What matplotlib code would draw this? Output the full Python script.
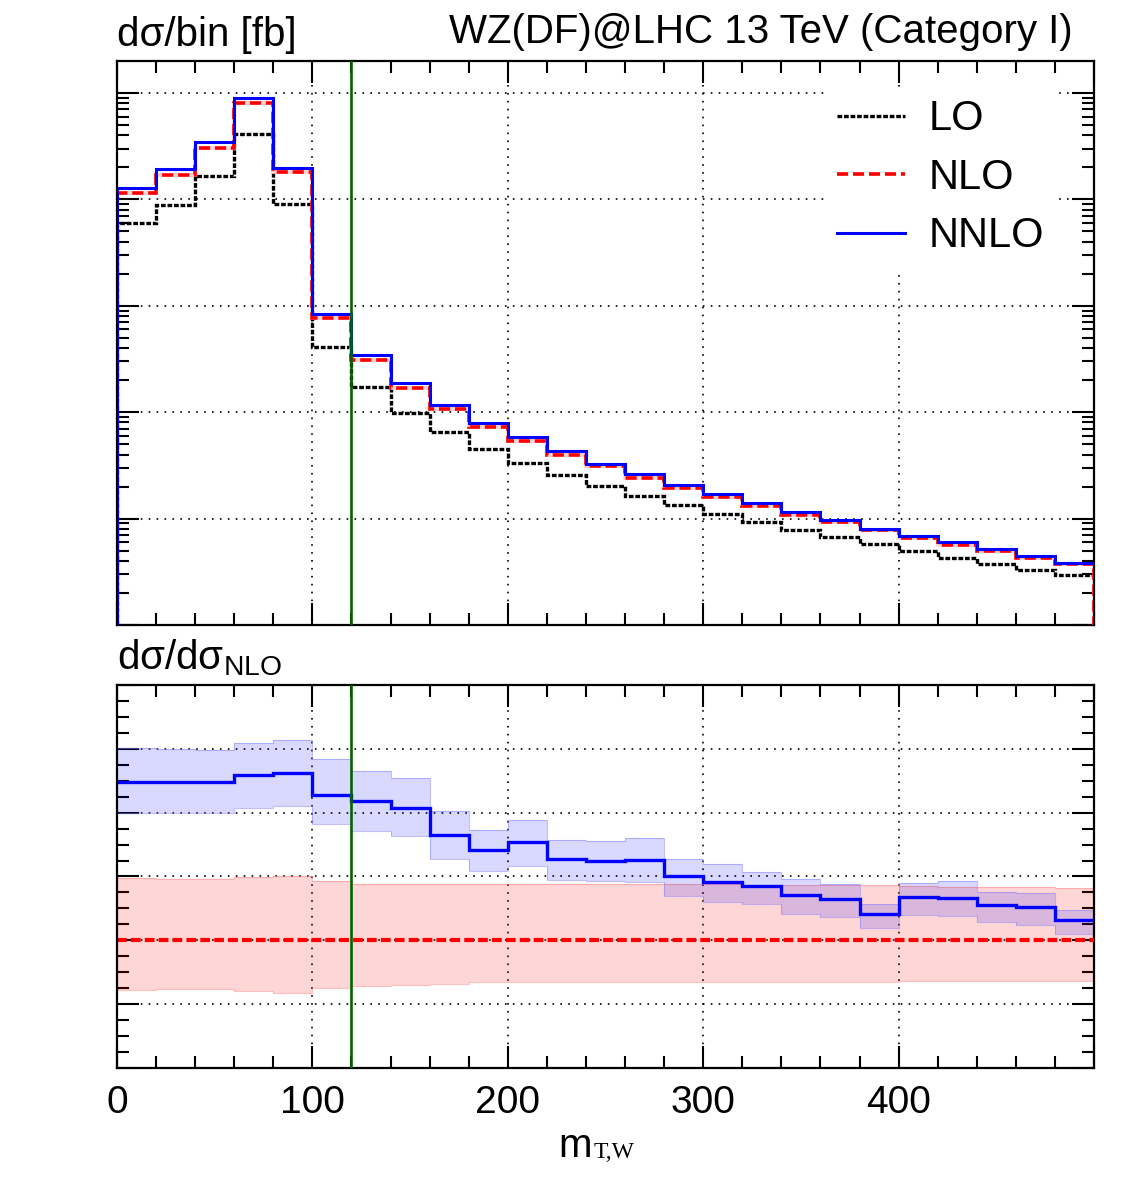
import numpy as np
import matplotlib
matplotlib.use('Agg')
import matplotlib.pyplot as plt
from matplotlib.lines import Line2D
from matplotlib.ticker import MultipleLocator, LogLocator, NullFormatter

plt.rcParams['font.family'] = ['Liberation Sans', 'DejaVu Sans']
plt.rcParams['lines.scale_dashes'] = False

# bin edges of m_T,W [GeV]
edges = np.arange(0, 520, 20)

# d sigma / bin [fb]
lo = [5.97, 8.88, 16.4, 40.9, 9.0, 0.406, 0.171, 0.0982, 0.0647, 0.0454,
      0.0336, 0.0259, 0.0204, 0.0163, 0.0133, 0.01114, 0.00931, 0.00788,
      0.00668, 0.00574, 0.00493, 0.00430, 0.00375, 0.00332, 0.00292]
nlo = [11.4, 17.0, 30.7, 80.0, 17.9, 0.766, 0.307, 0.169, 0.107, 0.0731,
       0.0532, 0.0396, 0.0310, 0.0243, 0.0193, 0.0158, 0.01315, 0.01091,
       0.00923, 0.00783, 0.00663, 0.00570, 0.00493, 0.00427, 0.00375]
nnlo = [12.9, 19.2, 34.4, 90.3, 19.9, 0.836, 0.341, 0.188, 0.117, 0.0791,
        0.0581, 0.0428, 0.0328, 0.0261, 0.0208, 0.0169, 0.01393, 0.01146,
        0.00964, 0.00805, 0.00692, 0.00600, 0.00515, 0.00443, 0.00384]

# ratio to NLO, with scale bands
r_nnlo = [1.1243, 1.1238, 1.1238, 1.1295, 1.1310, 1.1139, 1.1090, 1.1035,
          1.0822, 1.0708, 1.0770, 1.0635, 1.0622, 1.0630, 1.0502, 1.0460,
          1.0424, 1.0354, 1.0325, 1.0208, 1.0340, 1.0335, 1.0279, 1.0263,
          1.0159]
r_nnlo_up = [1.1508, 1.1496, 1.1490, 1.1542, 1.1573, 1.1420, 1.1324, 1.1274,
             1.1012, 1.0864, 1.0942, 1.0783, 1.0775, 1.0799, 1.0635, 1.0595,
             1.0535, 1.0481, 1.0442, 1.0286, 1.0447, 1.0463, 1.0377, 1.0367,
             1.0234]
r_nnlo_dn = [1.0999, 1.0999, 1.0999, 1.1035, 1.1053, 1.0910, 1.0860, 1.0814,
             1.0640, 1.0546, 1.0580, 1.0476, 1.0463, 1.0458, 1.0349, 1.0302,
             1.0286, 1.0205, 1.0185, 1.0099, 1.0198, 1.0190, 1.0143, 1.0120,
             1.0049]
r_nlo = [1.0] * 25
r_nlo_up = [1.0486, 1.0481, 1.0484, 1.0499, 1.0505, 1.0468, 1.0442, 1.0442,
            1.0442, 1.0442, 1.0442, 1.0442, 1.0441, 1.0440, 1.0439, 1.0438,
            1.0437, 1.0436, 1.0435, 1.0434, 1.0422, 1.0420, 1.0418, 1.0415,
            1.0412]
r_nlo_dn = [0.9613, 0.9618, 0.9618, 0.9600, 0.9590, 0.9623, 0.9639, 0.9650,
            0.9657, 0.9670, 0.9670, 0.9670, 0.9670, 0.9670, 0.9671, 0.9672,
            0.9673, 0.9674, 0.9675, 0.9676, 0.9683, 0.9683, 0.9684, 0.9684,
            0.9685]

cut = 120

fig = plt.figure(figsize=(11.4, 12), dpi=100)
W, H = 1140, 1200
ax1 = fig.add_axes([117 / W, 575 / H, 977 / W, 564 / H])
ax2 = fig.add_axes([117 / W, 132 / H, 977 / W, 383 / H])

grid_kw = dict(color='k', linestyle=(0, (1.2, 4.5)), linewidth=1.2)
for ax in (ax1, ax2):
    ax.set_xlim(0, 500)
    ax.xaxis.set_major_locator(MultipleLocator(100))
    ax.xaxis.set_minor_locator(MultipleLocator(20))
    ax.tick_params(which='both', direction='in', top=True, right=True, width=1.5)
    ax.tick_params(which='major', length=16)
    ax.tick_params(which='minor', length=8.5)
    for s in ax.spines.values():
        s.set_linewidth(1.6)
    ax.spines['left'].set_zorder(5)
    ax.set_axisbelow(True)
    ax.grid(True, which='major', **grid_kw)
    ax.axvline(cut, color='#006400', lw=1.9, zorder=4)
    ax.set_yticklabels([])

# upper panel
ax1.set_yscale('log')
ax1.set_ylim(1e-3, 10 ** 2.3)
ax1.yaxis.set_major_locator(LogLocator(base=10, numticks=20))
ax1.yaxis.set_minor_locator(LogLocator(base=10, subs=np.arange(2, 10), numticks=100))
ax1.yaxis.set_major_formatter(NullFormatter())
ax1.yaxis.set_minor_formatter(NullFormatter())
ax1.set_xticklabels([])

base = 1e-3
ax1.stairs(lo, edges, baseline=base, color='k', lw=2.4,
           linestyle=(0, (3.4, 1.3)), zorder=3)
ax1.stairs(nlo, edges, baseline=base, color='#ffd0d0', lw=2.6, zorder=3)
ax1.stairs(nlo, edges, baseline=base, color='#ff0000', lw=2.6,
           linestyle=(0, (8, 3.5)), zorder=3)
ax1.stairs(nnlo, edges, baseline=base, color='#0000ff', lw=2.2, zorder=3)

handles = [Line2D([], [], color='k', lw=2.4, ls=(0, (3.4, 1.3))),
           Line2D([], [], color='#ff0000', lw=2.6, ls=(0, (8, 3.5))),
           Line2D([], [], color='#0000ff', lw=2.2)]
leg = ax1.legend(handles, ['LO', 'NLO', 'NNLO'], loc='upper left',
                 bbox_to_anchor=(824 / W, 1 - 87 / H), bbox_transform=fig.transFigure,
                 fontsize=30, frameon=True, fancybox=False, edgecolor='none',
                 facecolor='white', framealpha=1, borderpad=0.3, borderaxespad=0,
                 handlelength=1.65, handletextpad=0.55, labelspacing=0.44)
leg.set_zorder(5)

# lower panel
ax2.set_ylim(0.9, 1.2)
ax2.yaxis.set_major_locator(MultipleLocator(0.05))
ax2.yaxis.set_minor_locator(MultipleLocator(0.0125))
ax2.set_xticks([0, 100, 200, 300, 400, 500])
ax2.set_xticklabels(['0', '100', '200', '300', '400', ''])
ax2.tick_params(axis='x', labelsize=28, pad=12)

ax2.stairs(r_nlo_up, edges, baseline=r_nlo_dn, fill=True, color='#ff0000',
           alpha=0.16, lw=0, zorder=1)
ax2.stairs(r_nlo_up, edges, baseline=None, color='#ff8080', lw=0.8, alpha=0.5, zorder=1)
ax2.stairs(r_nlo_dn, edges, baseline=None, color='#ff8080', lw=0.8, alpha=0.5, zorder=1)
ax2.stairs(r_nnlo_up, edges, baseline=r_nnlo_dn, fill=True, color='#0000ff',
           alpha=0.15, lw=0, zorder=1.5)
ax2.stairs(r_nnlo_up, edges, baseline=None, color='#8080ff', lw=0.8, alpha=0.5, zorder=1.5)
ax2.stairs(r_nnlo_dn, edges, baseline=None, color='#8080ff', lw=0.8, alpha=0.5, zorder=1.5)
ax2.stairs(r_nlo, edges, baseline=None, color='#ff0000', lw=3.0,
           linestyle=(0, (7, 3)), zorder=3)
ax2.stairs(r_nnlo, edges, baseline=None, color='#0000ff', lw=2.4, zorder=3)

# texts
fig.text(117 / W, 1 - 46 / H, 'dσ/bin [fb]', fontsize=29, va='baseline', ha='left')
fig.text(1073 / W, 1 - 43 / H, 'WZ(DF)@LHC 13 TeV (Category I)', fontsize=29,
         va='baseline', ha='right')
fig.text(117 / W, 1 - 669 / H, r'dσ/dσ$_{\mathregular{NLO}}$', fontsize=29,
         va='baseline', ha='left')
fig.text(558 / W, 1 - 1157 / H, 'm', fontsize=29, va='baseline', ha='left')
fig.text(594 / W, 1 - 1158 / H, 'T,W', fontsize=17, family='Liberation Serif',
         va='baseline', ha='left')

fig.savefig('out.png', dpi=100)
